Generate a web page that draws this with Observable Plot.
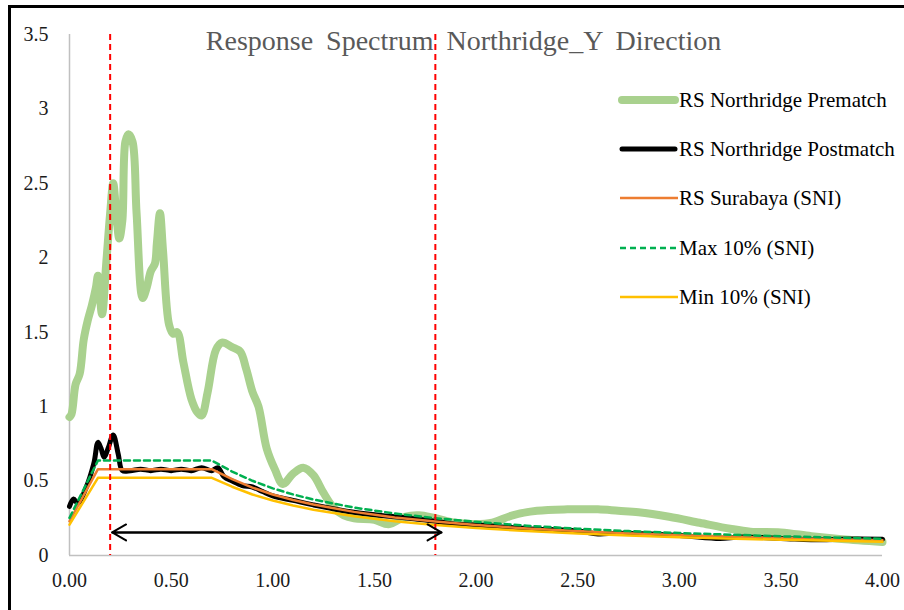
<!DOCTYPE html>
<html><head><meta charset="utf-8">
<script src="https://cdn.jsdelivr.net/npm/d3@7"></script>
<script src="https://cdn.jsdelivr.net/npm/@observablehq/plot@0.6"></script>
<style>
html,body{margin:0;padding:0;background:#fff;overflow:hidden}
#wrap{position:relative;width:904px;height:610px;font-family:"Times New Roman",Tinos,"Liberation Serif","DejaVu Serif",serif}
#frame{position:absolute;left:8px;top:5px;width:1000px;height:1000px;border:3px solid #000;box-sizing:border-box;pointer-events:none}
#chart{position:absolute;left:0;top:0}
#title{position:absolute;left:0;width:927px;top:25px;text-align:center;font-size:28px;color:#595959;word-spacing:6px;white-space:nowrap}
.lg{position:absolute;left:617px;height:24px;display:flex;align-items:center;font-size:21px;color:#000;white-space:nowrap}
.lg svg{display:block}
#chart svg text{font-family:"Times New Roman",Tinos,"Liberation Serif","DejaVu Serif",serif}
</style></head>
<body>
<div id="wrap">
  <div id="chart"></div>
  <div id="title">Response Spectrum Northridge_Y Direction</div>
  <div id="legend"></div>
  <div id="frame"></div>
</div>
<script>
// ---- data ----
const preT  = [0, 0.01, 0.03, 0.05, 0.07, 0.09, 0.11, 0.13, 0.14, 0.16, 0.18, 0.2, 0.215, 0.23, 0.245, 0.26, 0.275, 0.29, 0.31, 0.33, 0.36, 0.38, 0.40, 0.42, 0.43, 0.445, 0.46, 0.49, 0.51, 0.53, 0.56, 0.60, 0.63, 0.65, 0.68, 0.72, 0.75, 0.80, 0.84, 0.87, 0.90, 0.93, 0.97, 1.01, 1.05, 1.10, 1.15, 1.20, 1.25, 1.30, 1.35, 1.40, 1.50, 1.57, 1.65, 1.72, 1.80, 1.90, 2.00, 2.08, 2.18, 2.30, 2.45, 2.60, 2.70, 2.80, 2.95, 3.10, 3.25, 3.35, 3.50, 3.65, 3.80, 4.00];
const preSa = [0.93, 0.95, 1.15, 1.22, 1.45, 1.58, 1.68, 1.80, 1.88, 1.62, 1.95, 2.30, 2.50, 2.30, 2.13, 2.25, 2.78, 2.83, 2.78, 2.30, 1.73, 1.80, 1.91, 1.96, 2.10, 2.30, 2.05, 1.55, 1.49, 1.50, 1.30, 1.05, 0.96, 0.94, 1.10, 1.38, 1.43, 1.40, 1.37, 1.25, 1.10, 1.00, 0.72, 0.58, 0.48, 0.55, 0.59, 0.54, 0.42, 0.32, 0.27, 0.25, 0.24, 0.21, 0.26, 0.27, 0.25, 0.22, 0.21, 0.22, 0.27, 0.30, 0.31, 0.31, 0.30, 0.29, 0.26, 0.22, 0.18, 0.16, 0.155, 0.13, 0.11, 0.09];

const postT  = [0, 0.02, 0.04, 0.08, 0.12, 0.14, 0.155, 0.17, 0.19, 0.215, 0.24, 0.26, 0.30, 0.35, 0.40, 0.45, 0.50, 0.55, 0.60, 0.65, 0.70, 0.73, 0.76, 0.80, 0.85, 0.90, 0.95, 1.00, 1.10, 1.20, 1.40, 1.60, 1.80, 1.90, 2.00, 2.25, 2.50, 2.60, 2.70, 3.00, 3.20, 3.30, 3.50, 3.70, 3.80, 4.00];
const postSa = [0.33, 0.38, 0.35, 0.45, 0.62, 0.76, 0.72, 0.66, 0.72, 0.81, 0.68, 0.57, 0.57, 0.58, 0.57, 0.58, 0.57, 0.58, 0.57, 0.59, 0.57, 0.59, 0.53, 0.50, 0.47, 0.46, 0.43, 0.40, 0.37, 0.34, 0.29, 0.26, 0.23, 0.21, 0.205, 0.18, 0.165, 0.145, 0.15, 0.135, 0.115, 0.125, 0.115, 0.105, 0.11, 0.11];

const sniT  = [0, 0.14, 0.70, 0.80, 0.90, 1.00, 1.10, 1.20, 1.40, 1.60, 1.80, 2.00, 2.25, 2.50, 2.75, 3.00, 3.50, 4.00];
const sniSa = [0.23, 0.58, 0.58, 0.513, 0.456, 0.41, 0.373, 0.342, 0.293, 0.256, 0.228, 0.205, 0.182, 0.164, 0.149, 0.137, 0.117, 0.103];
const maxSa = [0.253, 0.638, 0.638, 0.564, 0.502, 0.451, 0.410, 0.376, 0.322, 0.282, 0.251, 0.226, 0.200, 0.180, 0.164, 0.151, 0.129, 0.113];
const minSa = [0.207, 0.522, 0.522, 0.462, 0.410, 0.369, 0.336, 0.308, 0.264, 0.230, 0.205, 0.185, 0.164, 0.148, 0.134, 0.123, 0.105, 0.093];

const xTicks = [0, 0.5, 1, 1.5, 2, 2.5, 3, 3.5, 4];
const yTicks = [0, 0.5, 1, 1.5, 2, 2.5, 3, 3.5];

const refPeriods = [0.2, 1.8];
const arrowFrom  = [0.21, 1.83];
const arrowTo    = [1.83, 0.21];
const arrowLevel = [0.155, 0.155];

const seriesNames = ["RS Northridge Prematch", "RS Northridge Postmatch", "RS Surabaya (SNI)", "Max 10% (SNI)", "Min 10% (SNI)"];

// ---- tables ----
const pre  = preT.map((t, i) => ({T: t, Sa: preSa[i]}));
const post = postT.map((t, i) => ({T: t, Sa: postSa[i]}));
const sni  = sniT.map((t, i) => ({T: t, Sa: sniSa[i]}));
const mx   = sniT.map((t, i) => ({T: t, Sa: maxSa[i]}));
const mn   = sniT.map((t, i) => ({T: t, Sa: minSa[i]}));
const arrows = arrowFrom.map((a, i) => ({x1: a, x2: arrowTo[i], y: arrowLevel[i]}));

const styles = [
  {stroke: "#a9d18e", width: 8, dash: null},
  {stroke: "#000000", width: 5, dash: null},
  {stroke: "#ed7d31", width: 2.5, dash: null},
  {stroke: "#00b050", width: 2.5, dash: "6,4"},
  {stroke: "#ffc000", width: 2.5, dash: null}
];

const serif = '"Times New Roman",Tinos,"Liberation Serif","DejaVu Serif",serif';
const chart = Plot.plot({
  width: 904, height: 610,
  marginLeft: 69, marginRight: 22, marginTop: 34, marginBottom: 55,
  style: {fontFamily: serif, fontSize: "20px", color: "#1a1a1a", background: "transparent", overflow: "visible"},
  x: {domain: [0, 4], ticks: xTicks, tickFormat: d3.format(".2f"), tickSize: 0, tickPadding: 17, label: null},
  y: {domain: [0, 3.5], ticks: yTicks, tickFormat: d => String(d), tickSize: 0, tickPadding: 21, label: null},
  marks: [
    Plot.ruleY([0], {stroke: "#c0c0c0", strokeWidth: 1.5}),
    Plot.ruleX([0], {stroke: "#c0c0c0", strokeWidth: 1.5}),
    Plot.line(pre,  {x: "T", y: "Sa", stroke: styles[0].stroke, strokeWidth: styles[0].width, curve: "catmull-rom", strokeLinejoin: "round", strokeLinecap: "round"}),
    Plot.line(post, {x: "T", y: "Sa", stroke: styles[1].stroke, strokeWidth: styles[1].width, curve: "catmull-rom", strokeLinejoin: "round"}),
    Plot.line(sni,  {x: "T", y: "Sa", stroke: styles[2].stroke, strokeWidth: styles[2].width}),
    Plot.line(mx,   {x: "T", y: "Sa", stroke: styles[3].stroke, strokeWidth: styles[3].width, strokeDasharray: styles[3].dash}),
    Plot.line(mn,   {x: "T", y: "Sa", stroke: styles[4].stroke, strokeWidth: styles[4].width}),
    Plot.ruleX(refPeriods, {stroke: "#ff0000", strokeWidth: 2, strokeDasharray: "6,4"}),
    Plot.arrow(arrows, {x1: "x1", x2: "x2", y1: "y", y2: "y", stroke: "#000", strokeWidth: 2, headLength: 12, headAngle: 60})
  ]
});
document.getElementById("chart").appendChild(chart);

// ---- legend ----
const legendY = [100, 149, 198, 248, 297];
const lg = document.getElementById("legend");
seriesNames.forEach((name, i) => {
  const s = styles[i];
  const row = document.createElement("div");
  row.className = "lg";
  row.style.top = (legendY[i] - 12) + "px";
  const cap = s.width > 4 ? "round" : "butt";
  row.innerHTML = `<svg width="62" height="24"><line x1="${s.width > 4 ? 5 : 3}" x2="${s.width > 4 ? 58 : 61}" y1="12" y2="12" stroke="${s.stroke}" stroke-width="${s.width}" stroke-linecap="${cap}" ${s.dash ? `stroke-dasharray="${s.dash}"` : ""}/></svg><span>${name}</span>`;
  lg.appendChild(row);
});
</script>
</body></html>
